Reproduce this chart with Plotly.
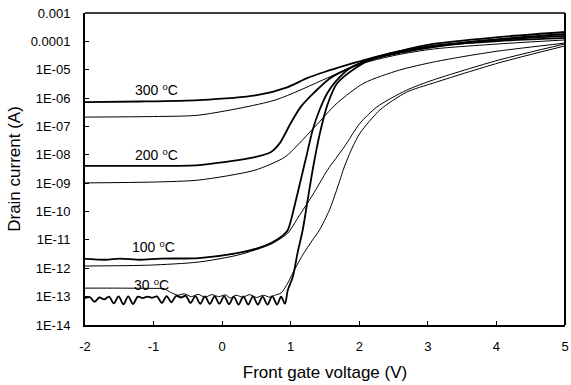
import plotly.graph_objects as go

# ---------------- data (gate voltage V, log10 of drain current A) ----------------
# thick curves
T300_v = [-2.0, -1.2, -0.34, 0.525, 0.958, 1.247, 1.492, 1.824, 2.069, 2.545, 3.079, 4.032, 5.0]
T300_l = [-6.14, -6.12, -6.07, -5.89, -5.61, -5.29, -5.08, -4.83, -4.66, -4.375, -4.16, -3.99, -3.88]

T200_v = [-2.0, -1.06, -0.34, 0.424, 0.713, 0.843, 1.001, 1.146, 1.348, 1.579, 1.968, 2.214, 2.589, 3.079, 4.032, 5.0]
T200_l = [-8.39, -8.39, -8.36, -8.11, -7.90, -7.58, -6.88, -6.31, -5.79, -5.29, -4.83, -4.62, -4.41, -4.20, -3.95, -3.81]

T100_v = [-2.0, -1.7, -1.49, -1.2, -0.9, -0.34, 0.237, 0.525, 0.713, 0.857, 0.958, 1.059, 1.146, 1.233,
          1.319, 1.420, 1.535, 1.636, 1.867, 2.214, 2.589, 3.079, 4.032, 5.0]
T100_l = [-11.67, -11.70, -11.66, -11.70, -11.66, -11.64, -11.46, -11.29, -11.11, -10.90, -10.65, -9.77, -8.89, -8.01,
          -7.13, -6.42, -5.82, -5.47, -4.94, -4.59, -4.38, -4.16, -3.92, -3.74]

T30_v = [-2.00, -1.93, -1.86, -1.79, -1.72, -1.65, -1.58, -1.51, -1.44, -1.37,
         -1.30, -1.23, -1.16, -1.09, -1.02, -0.95, -0.88, -0.81, -0.74, -0.67,
         -0.60, -0.53, -0.46, -0.39, -0.32, -0.25, -0.18, -0.11, -0.04, 0.03,
         0.10, 0.17, 0.24, 0.31, 0.38, 0.45, 0.52, 0.59, 0.66, 0.73,
         0.80, 0.86, 0.915,
         0.958, 1.030, 1.102, 1.175, 1.247, 1.333, 1.420, 1.535, 1.680, 1.968, 2.214, 2.589, 3.079, 4.032, 5.0]
T30_l = [-13.05, -13.02, -13.18, -13.03, -13.10, -13.00, -13.24, -12.99, -13.27, -12.99,
         -13.26, -13.00, -13.05, -13.00, -13.04, -12.99, -13.22, -12.98, -13.20, -12.97,
         -13.03, -12.97, -13.22, -12.98, -13.25, -12.99, -13.26, -12.99, -13.25, -12.98,
         -13.27, -13.00, -13.28, -12.99, -13.28, -12.99, -13.28, -13.00, -13.28, -12.98,
         -13.28, -13.00, -13.25,
         -12.77, -12.31, -11.43, -10.65, -9.59, -8.36, -7.30, -6.24, -5.47, -4.90, -4.59, -4.34, -4.09, -3.85, -3.67]

# thin curves
t300_v = [-2.0, -1.0, -0.34, 0.771, 1.535, 1.968, 2.545, 3.079, 4.032, 5.0]
t300_l = [-6.67, -6.65, -6.60, -6.07, -5.29, -4.83, -4.48, -4.27, -4.09, -3.95]

t200_v = [-2.0, -1.0, -0.34, 0.48, 0.915, 1.131, 1.348, 1.680, 2.069, 2.589, 3.079, 3.556, 4.032, 5.0]
t200_l = [-8.99, -8.96, -8.89, -8.54, -8.08, -7.58, -7.02, -6.17, -5.47, -5.01, -4.73, -4.52, -4.34, -4.06]

t100_v = [-2.0, -1.062, -0.34, 0.237, 0.713, 0.958, 1.102, 1.319, 1.535, 1.781, 2.012, 2.257, 2.690, 3.079, 4.032, 5.0]
t100_l = [-11.92, -11.89, -11.78, -11.53, -11.15, -10.76, -10.23, -9.42, -8.54, -7.72, -6.88, -6.31, -5.72, -5.36, -4.66, -4.09]

t30_v = [-2.0, -1.5, -1.0, -0.85, -0.75, -0.65, -0.55, -0.45, -0.35, -0.25, -0.15, -0.05, 0.05, 0.12, 0.2, 0.3,
         0.4, 0.5, 0.6, 0.7, 0.78, 0.86, 0.958, 1.030, 1.175, 1.319, 1.420, 1.564, 1.680, 1.781, 1.896, 2.012,
         2.300, 2.690, 3.079, 4.032, 5.0]
t30_l = [-12.70, -12.70, -12.71, -12.72, -12.85, -12.95, -12.90, -13.00, -12.92, -13.02, -12.93, -13.00, -12.94, -13.05,
         -12.95, -13.02, -12.93, -13.03, -12.95, -13.02, -12.94, -12.87, -12.52, -12.17, -11.53, -11.00, -10.65, -9.95,
         -9.17, -8.43, -7.76, -7.23, -6.42, -5.79, -5.47, -4.76, -4.16]

labels = ["300 \u2070C", "200 \u2070C", "100 \u2070C", "30 \u2070C"]
label_v = [-0.96, -0.96, -1.0, -1.03]
label_l = [-5.72, -8.02, -11.25, -12.59]

x_ticks = [-2, -1, 0, 1, 2, 3, 4, 5]
x_ticktext = ["-2", "-1", "0", "1", "2", "3", "4", "5"]
y_tickvals = [1e-3, 1e-4, 1e-5, 1e-6, 1e-7, 1e-8, 1e-9, 1e-10, 1e-11, 1e-12, 1e-13, 1e-14]
y_ticktext = ["0.001", "0.0001", "1E-05", "1E-06", "1E-07", "1E-08", "1E-09",
              "1E-10", "1E-11", "1E-12", "1E-13", "1E-14"]

# ---------------- figure ----------------
fig = go.Figure()

def add(v, l, w, sm):
    fig.add_trace(go.Scatter(x=v, y=[10 ** e for e in l], mode="lines",
                             line=dict(color="black", width=w, shape="spline", smoothing=sm),
                             showlegend=False, hoverinfo="skip"))

for v, l in [(t300_v, t300_l), (t200_v, t200_l), (t100_v, t100_l), (t30_v, t30_l)]:
    add(v, l, 1.0, 0.7)
for v, l in [(T300_v, T300_l), (T200_v, T200_l), (T100_v, T100_l)]:
    add(v, l, 1.8, 0.7)
add(T30_v, T30_l, 1.8, 0.9)

for txt, v, l in zip(labels, label_v, label_l):
    fig.add_annotation(x=v, y=l, text=txt, showarrow=False, xref="x", yref="y",
                       xanchor="center", yanchor="middle",
                       font=dict(family="Liberation Sans, DejaVu Sans, Arial", size=14, color="black"))

fig.add_shape(type="line", xref="paper", yref="paper", x0=0, x1=1, y0=1, y1=1,
              line=dict(color="black", width=1.3))
fig.add_shape(type="line", xref="paper", yref="paper", x0=1, x1=1, y0=0, y1=1,
              line=dict(color="black", width=2))

fig.update_layout(
    width=571, height=385,
    margin=dict(l=85, r=2, t=13, b=60),
    plot_bgcolor="white", paper_bgcolor="white",
    font=dict(family="Liberation Sans, Arial", color="black"),
    xaxis=dict(range=[-2, 5], tickvals=x_ticks, ticktext=x_ticktext, ticks="inside", ticklen=4,
               tickcolor="black", ticklabeloverflow="allow",
               showline=True, linecolor="black", linewidth=2, showgrid=False, zeroline=False,
               tickfont=dict(size=13), ticklabelstandoff=8,
               title=dict(text="Front gate voltage (V)", font=dict(size=17), standoff=14)),
    yaxis=dict(type="log", range=[-14, -3], tickvals=y_tickvals, ticktext=y_ticktext,
               ticks="inside", ticklen=4, tickcolor="black",
               showline=True, linecolor="black", linewidth=2, showgrid=False, zeroline=False,
               tickfont=dict(size=13), ticklabelstandoff=10,
               title=dict(text="Drain current (A)", font=dict(size=17), standoff=6)),
)

fig.write_html("out.html")
